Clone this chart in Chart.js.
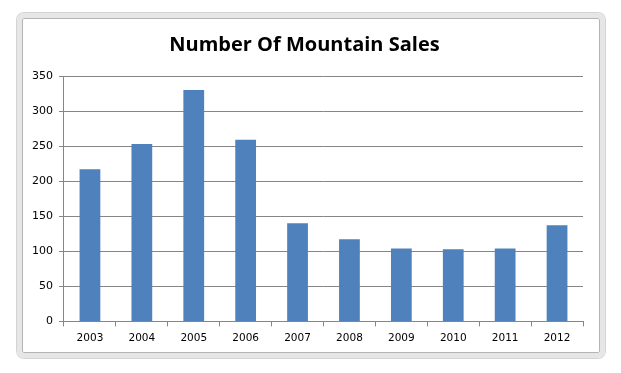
<!DOCTYPE html>
<html>
<head>
<meta charset="utf-8">
<script src="https://cdn.jsdelivr.net/npm/chart.js@4/dist/chart.umd.min.js"></script>
<style>
  html, body { margin: 0; padding: 0; background: #fff; }
  #wrap { position: relative; width: 621px; height: 373px; }
  #frame {
    position: absolute; left: 17px; top: 13px; width: 578px; height: 335px;
    border: 5px solid #e6e6e6; border-radius: 7px;
    box-shadow: inset 0 0 0 1px #b4b4b4, 0 0 0 1px #d4d4d4;
  }
  #myChart { position: absolute; left: 0; top: 0; }
</style>
</head>
<body>
<div id="wrap">
  <div id="frame"></div>
  <canvas id="myChart" width="621" height="373"></canvas>
</div>
<script>
const years = ["2003", "2004", "2005", "2006", "2007", "2008", "2009", "2010", "2011", "2012"];
const sales = [217, 253, 330, 259, 140, 117, 104, 103, 104, 137];
const yTicks = [0, 50, 100, 150, 200, 250, 300, 350];

const ctx = document.getElementById("myChart");
const myChart = new Chart(ctx, {
  type: "bar",
  data: {
    labels: years,
    datasets: [
      {
        label: "Number Of Mountain Sales",
        data: sales,
        backgroundColor: "#4f81bd",
        borderWidth: 0,
        categoryPercentage: 1,
        barPercentage: 0.4
      }
    ]
  },
  options: {
    responsive: false,
    animation: false,
    layout: { padding: { left: 26, right: 38, top: 33, bottom: 22 } },
    plugins: {
      legend: { display: false },
      tooltip: { enabled: false },
      title: {
        display: true,
        text: "Number Of Mountain Sales",
        color: "#000",
        font: { family: "Open Sans", size: 20, weight: "bold", lineHeight: 1.2 },
        padding: { top: 0, bottom: 19 }
      }
    },
    scales: {
      x: {
        grid: {
          offset: true,
          drawOnChartArea: false,
          drawTicks: true,
          tickLength: 5,
          color: "#868686"
        },
        border: { color: "#868686", width: 1 },
        ticks: {
          color: "#000",
          font: { family: "DejaVu Sans", size: 10.5 },
          padding: 6,
          maxRotation: 0
        }
      },
      y: {
        min: 0,
        max: 350,
        afterBuildTicks: axis => { axis.ticks = yTicks.map(v => ({ value: v })); },
        grid: { color: "#868686", tickLength: 5 },
        border: { color: "#868686", width: 1 },
        ticks: {
          color: "#000",
          font: { family: "DejaVu Sans", size: 11 },
          padding: 6
        }
      }
    }
  }
});
</script>
</body>
</html>
